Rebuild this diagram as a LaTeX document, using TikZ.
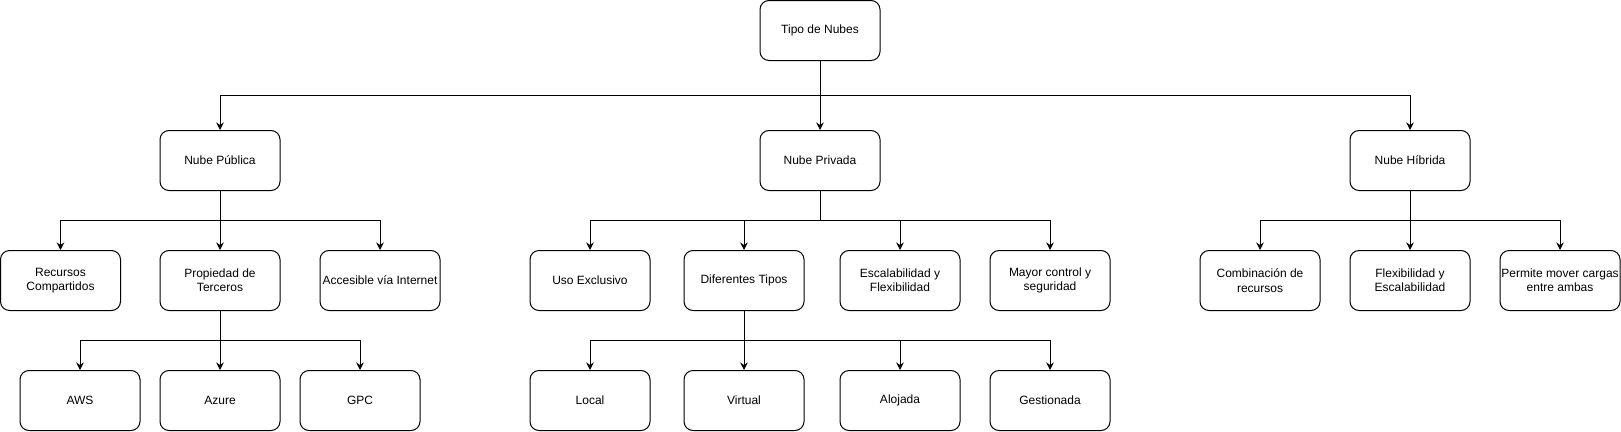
\documentclass[tikz,border=0pt]{standalone}
\usepackage{fontspec}
\setmainfont{Liberation Sans}
\usetikzlibrary{arrows.meta}
\tikzset{
  box/.style={draw=black, fill=white, line width=1pt, rounded corners=9pt,
    minimum width=120pt, minimum height=60pt, inner sep=0pt, align=center,
    font=\fontsize{12}{14.4}\selectfont, text=black},
  arr/.style={draw=black, line width=1pt, -{Stealth[length=7.5pt,width=7.5pt,inset=2.5pt]}},
  line/.style={draw=black, line width=1pt}
}
\begin{document}
\begin{tikzpicture}[x=1pt,y=-1pt]
\useasboundingbox (0,0) rectangle (1621,431);
% bus levels
\coordinate (bus0) at (0,95.5);
\coordinate (bus1) at (0,220.5);
\coordinate (bus2) at (0,340.5);
% level 0
\node[box] (tipo) at (820,30.5) {Tipo de Nubes};
% level 1
\node[box] (pub) at (220,160.5) {Nube Pública};
\node[box] (priv) at (820,160.5) {Nube Privada};
\node[box] (hib) at (1410,160.5) {Nube Híbrida};
% level 2
\node[box] (rec) at (60.5,280.5) {Recursos\\Compartidos};
\node[box] (prop) at (220,280.5) {Propiedad de\\Terceros};
\node[box] (acc) at (380,280.5) {Accesible vía Internet};
\node[box] (uso) at (590,280.5) {Uso Exclusivo};
\node[box] (dif) at (744,280.5) {Diferentes Tipos};
\node[box] (esc) at (900,280.5) {Escalabilidad y\\Flexibilidad};
\node[box] (may) at (1050,280.5) {Mayor control y\\seguridad};
\node[box] (comb) at (1260,280.5) {Combinación de\\recursos};
\node[box] (flex) at (1410,280.5) {Flexibilidad y\\Escalabilidad};
\node[box] (perm) at (1560,280.5) {Permite mover cargas\\entre ambas};
% level 3
\node[box] (aws) at (80,400.5) {AWS};
\node[box] (azu) at (220,400.5) {Azure};
\node[box] (gpc) at (360,400.5) {GPC};
\node[box] (loc) at (590,400.5) {Local};
\node[box] (vir) at (744,400.5) {Virtual};
\node[box] (alo) at (900,400.5) {Alojada};
\node[box] (ges) at (1050,400.5) {Gestionada};
% level 0 -> 1
\draw[arr] (tipo.south) -- (tipo.south |- bus0) -| (pub.north);
\draw[arr] (tipo.south) -- (priv.north);
\draw[arr] (tipo.south) -- (tipo.south |- bus0) -| (hib.north);
% publica
\draw[arr] (pub.south) -- (pub.south |- bus1) -| (rec.north);
\draw[arr] (pub.south) -- (prop.north);
\draw[arr] (pub.south) -- (pub.south |- bus1) -| (acc.north);
\draw[arr] (prop.south) -- (prop.south |- bus2) -| (aws.north);
\draw[arr] (prop.south) -- (azu.north);
\draw[arr] (prop.south) -- (prop.south |- bus2) -| (gpc.north);
% privada
\draw[arr] (priv.south) -- (priv.south |- bus1) -| (uso.north);
\draw[arr] (priv.south) -- (priv.south |- bus1) -| (dif.north);
\draw[arr] (priv.south) -- (priv.south |- bus1) -| (esc.north);
\draw[arr] (priv.south) -- (priv.south |- bus1) -| (may.north);
\draw[arr] (dif.south) -- (dif.south |- bus2) -| (loc.north);
\draw[arr] (dif.south) -- (vir.north);
\draw[arr] (dif.south) -- (dif.south |- bus2) -| (alo.north);
\draw[arr] (dif.south) -- (dif.south |- bus2) -| (ges.north);
% hibrida
\draw[arr] (hib.south) -- (hib.south |- bus1) -| (comb.north);
\draw[arr] (hib.south) -- (flex.north);
\draw[arr] (hib.south) -- (hib.south |- bus1) -| (perm.north);
\end{tikzpicture}
\end{document}
